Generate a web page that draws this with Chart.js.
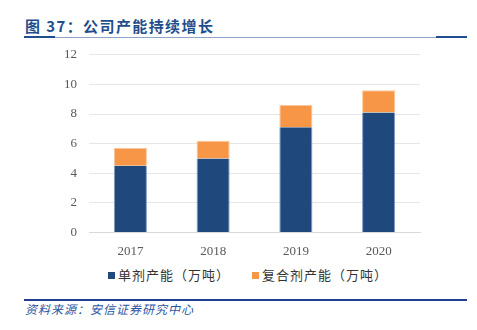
<!DOCTYPE html>
<html lang="zh">
<head>
  <meta charset="UTF-8" />
  <title>公司产能持续增长</title>
  <script src="https://cdn.jsdelivr.net/npm/chart.js"></script>
  <style>
    html,body{margin:0;padding:0;background:#fff;}
    body{width:477px;height:330px;position:relative;overflow:hidden;font-family:"Noto Sans CJK SC",sans-serif;}
    .title{position:absolute;left:25px;top:15px;font-size:15px;font-weight:bold;color:#1f4e8c;letter-spacing:1.4px;}
    .rule-top{position:absolute;left:24px;top:37px;width:443px;height:1px;background:#8ea4c8;}
    .rule-top .l,.rule-top .r{position:absolute;top:-1px;height:2px;background:#1f4e8c;width:31px;}
    .rule-top .l{left:0}.rule-top .r{right:0}
    .rule-bot{position:absolute;left:24px;top:299px;width:443px;height:2px;background:#1f3f8c;}
    .source{position:absolute;left:25px;top:300px;font-size:12px;font-style:italic;color:#2b55a0;letter-spacing:1px;}
    #wrap{position:absolute;left:0;top:35px;width:477px;height:227px;}
    #legend{position:absolute;left:108px;top:265px;font-size:13px;color:#333;white-space:nowrap;letter-spacing:1px;}
    #legend span.item{display:inline-block;margin-right:22px;}
    #legend i{display:inline-block;width:7px;height:7px;margin-right:3px;vertical-align:1px;}
  </style>
</head>
<body>
  <div class="title">图 37：公司产能持续增长</div>
  <div class="rule-top"><div class="l"></div><div class="r"></div></div>
  <div id="wrap"><canvas id="chart"></canvas></div>
  <div id="legend"></div>
  <div class="rule-bot"></div>
  <div class="source">资料来源：安信证券研究中心</div>

<script>
// ── data ─────────────────────────────────────────────────────────────────
const years    = ['2017', '2018', '2019', '2020'];
const single   = [4.5, 5.0, 7.1, 8.1];   // 单剂产能
const compound = [1.2, 1.2, 1.5, 1.5];   // 复合剂产能
const seriesNames  = ['单剂产能（万吨）', '复合剂产能（万吨）'];
const seriesColors = ['#1f497d', '#f79646'];

const chart = new Chart(document.getElementById('chart'), {
  type: 'bar',
  data: {
    labels: years,
    datasets: [
      {label: seriesNames[0], data: single,   backgroundColor: seriesColors[0], borderColor:'#7f9cc4', borderWidth:{left:1,right:1,top:0,bottom:0}},
      {label: seriesNames[1], data: compound, backgroundColor: seriesColors[1], borderColor:'#fbc59a', borderWidth:{left:1,right:1,top:1,bottom:0}}
    ]
  },
  options: {
    responsive: true,
    maintainAspectRatio: false,
    animation: false,
    datasets: {bar: {barPercentage: 0.4, categoryPercentage: 1}},
    layout: {padding: {left: 0, right: 57, top: 0, bottom: 0}},
    plugins: {tooltip: {enabled: false}, legend: {display: false}},
    scales: {
      x: {
        stacked: true,
        grid: {display: false},
        border: {color: '#d9d9d9'},
        ticks: {color: '#595959', padding: 3, font: {family: '"Liberation Serif", serif', size: 13}}
      },
      y: {
        stacked: true,
        min: 0, max: 12,
        ticks: {stepSize: 2, color: '#595959', padding: 12, font: {family: '"Liberation Serif", serif', size: 13}},
        grid: {color: '#e6e6e6', drawTicks: false},
        border: {display: false},
        afterFit: s => { s.width = 89; }
      }
    }
  }
});

// legend built from the datasets
document.getElementById('legend').innerHTML = chart.data.datasets.map(d =>
  `<span class="item"><i style="background:${d.backgroundColor}"></i>${d.label}</span>`).join('');
</script>
</body>
</html>
